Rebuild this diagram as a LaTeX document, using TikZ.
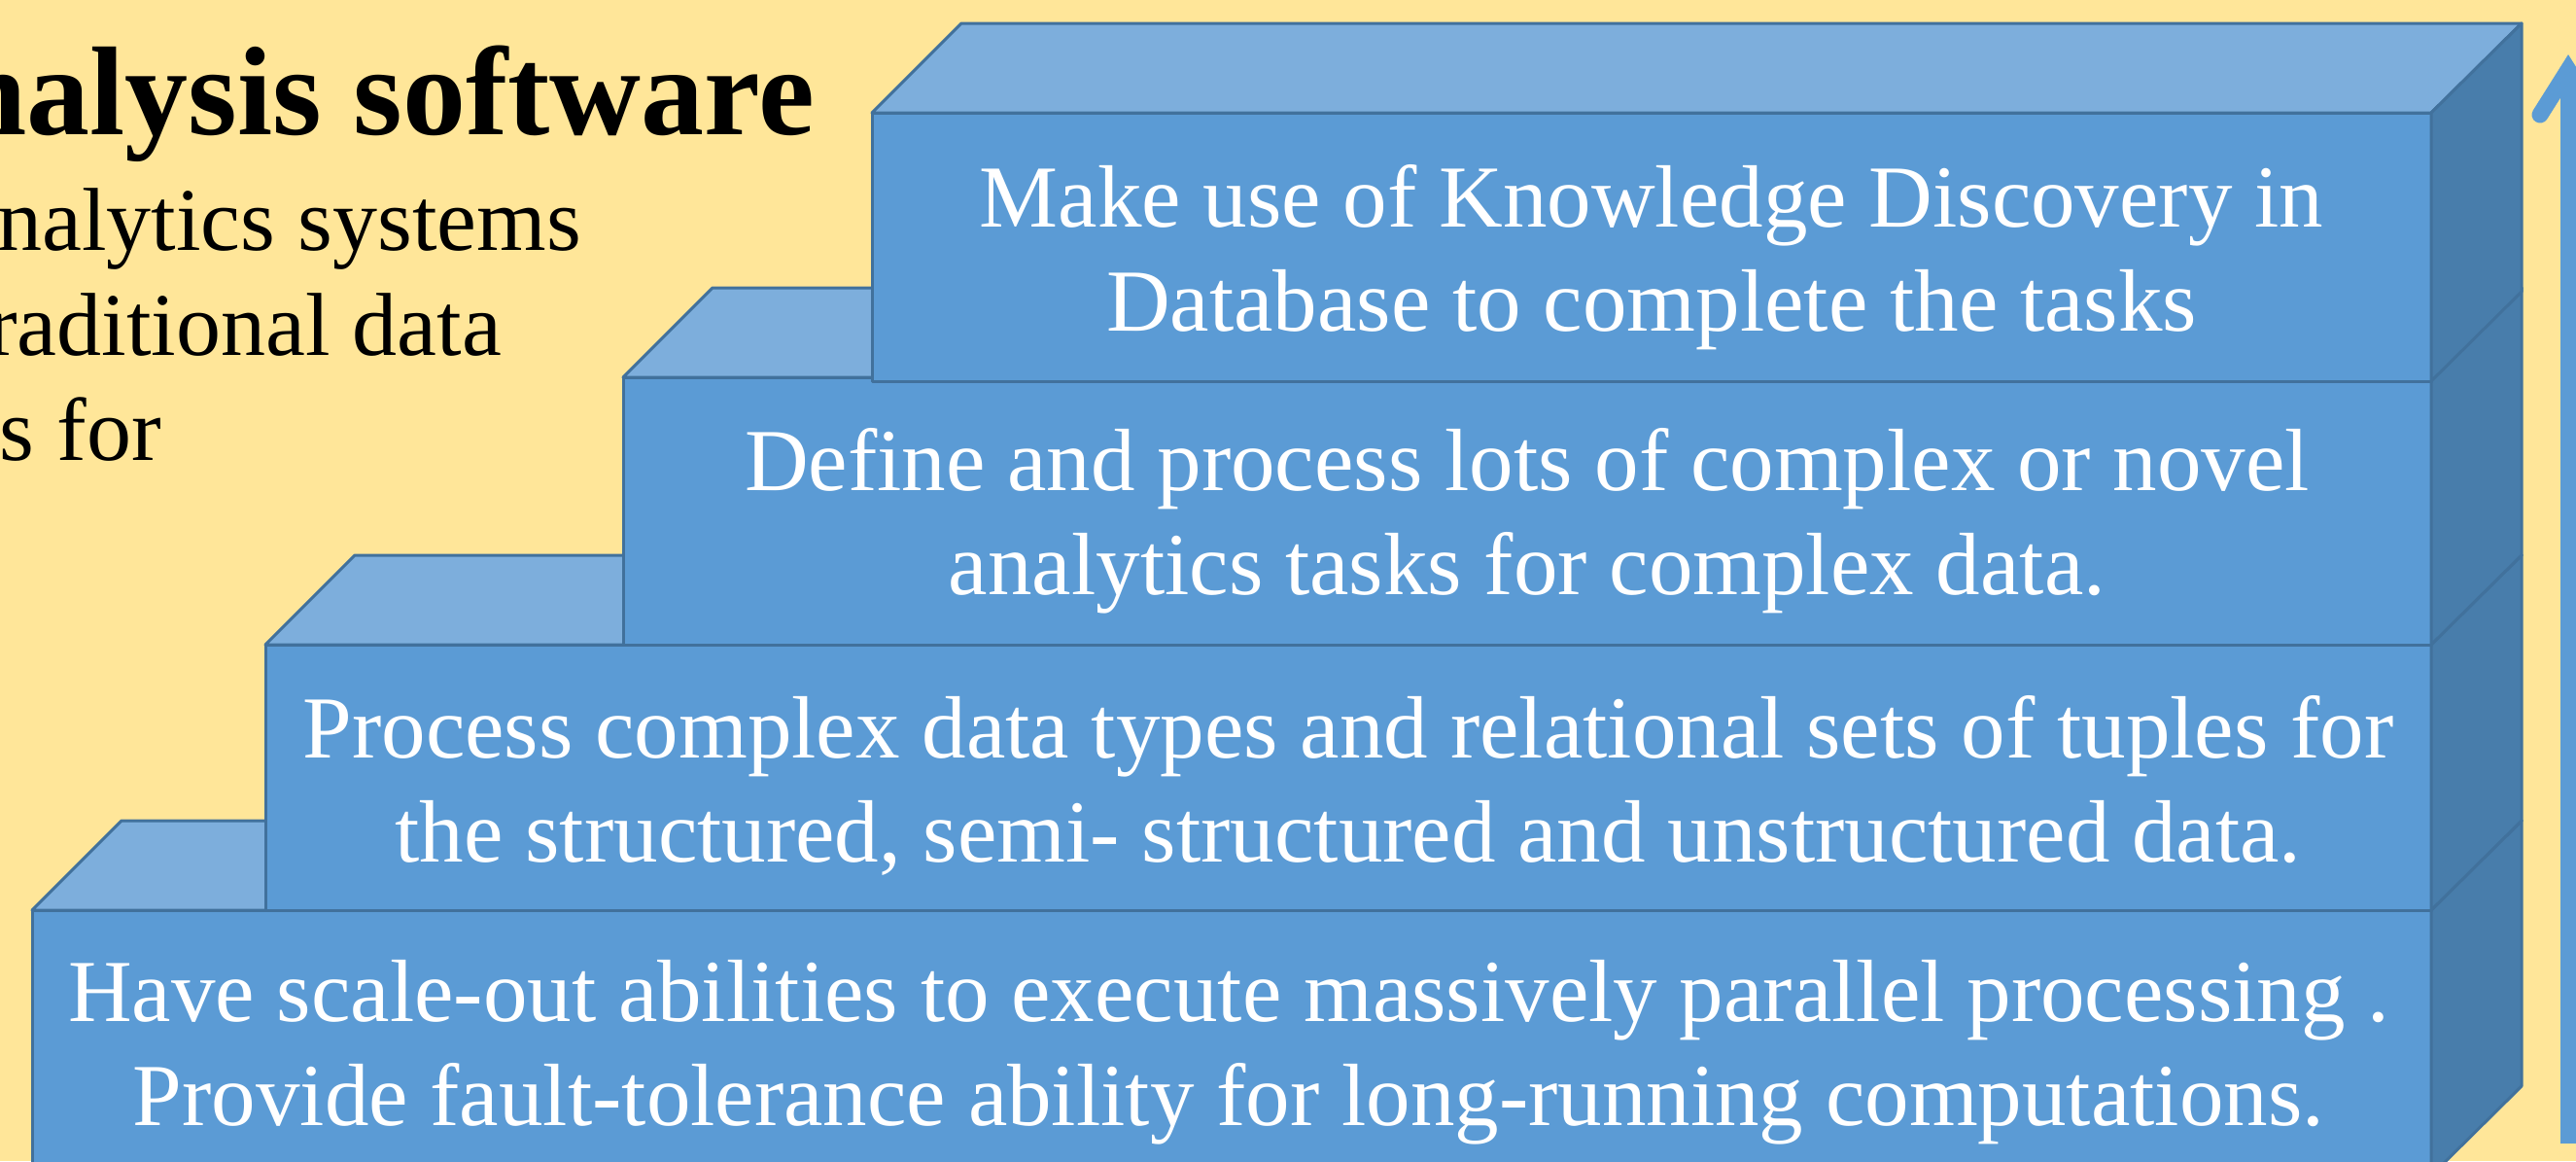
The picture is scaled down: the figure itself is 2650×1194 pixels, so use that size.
\documentclass[tikz,border=0pt]{standalone}
\usepackage{fontspec}
\setmainfont{Liberation Serif}
\definecolor{bgyellow}{HTML}{FFE699}
\definecolor{frontblue}{HTML}{5B9BD5}
\definecolor{topblue}{HTML}{7DAEDC}
\definecolor{sideblue}{HTML}{487DAB}
\definecolor{edgeblue}{HTML}{41719C}
\begin{document}
\begin{tikzpicture}[x=1pt,y=-1pt,
  face/.style={draw=edgeblue,line width=3pt,line join=round},
  blocktext/.style={text=white,align=center,inner sep=0pt,anchor=base,
    font=\fontsize{91}{107}\selectfont},
  sidetext/.style={text=black,inner sep=0pt,anchor=base east,
    font=\fontsize{92}{108}\selectfont},
  titletext/.style={text=black,inner sep=0pt,anchor=base east,
    font=\bfseries\fontsize{130}{135}\selectfont},
  arrowline/.style={draw=frontblue,line width=17pt}]
\useasboundingbox (0,0) rectangle (2650,1194);
\clip (0,0) rectangle (2650,1194);
\fill[bgyellow] (0,0) rectangle (2650,1194);
% left texts
\node[titletext] (title) at (838,138) {nalysis software};
\node[sidetext] (l1) at (598,257) {nalytics systems};
\node[sidetext] (l2) at (516,365) {raditional data};
\node[sidetext] (l3) at (166,473) {s for};
% blocks: left x, top y, bottom y
\foreach \lx/\ty/\by in {33/936/1209, 273/663/936, 641/388/663, 897/116/392}{
  \filldraw[face,fill=frontblue] (\lx,\ty) rectangle (2501,\by);
  \filldraw[face,fill=topblue] (\lx,\ty) -- ++(92,-92) -- (2594,\ty-92) -- (2501,\ty) -- cycle;
  \filldraw[face,fill=sideblue] (2501,\ty) -- (2594,\ty-92) -- (2594,\by-92) -- (2501,\by) -- cycle;
}
% block texts (anchor base = baseline of the last line)
\node[blocktext] (b1) at (1264,1157) {Have scale-out abilities to execute massively parallel processing .\\Provide fault-tolerance ability for long-running computations.};
\node[blocktext] (b2) at (1387,886) {Process complex data types and relational sets of tuples for\\the structured, semi- structured and unstructured data.};
\node[blocktext] (b3) at (1571,611) {Define and process lots of complex or novel\\analytics tasks for complex data.};
\node[blocktext] (b4) at (1699,340) {Make use of Knowledge Discovery in\\Database to complete the tasks};
% arrow
\coordinate (abot) at (2642,1176);
\coordinate (atip) at (2642,72);
\draw[arrowline] (abot) -- (atip);
\draw[arrowline,line cap=round,line join=miter] ([xshift=-29pt,yshift=-46pt]atip) -- (atip) -- ([xshift=29pt,yshift=-46pt]atip);
\end{tikzpicture}
\end{document}
